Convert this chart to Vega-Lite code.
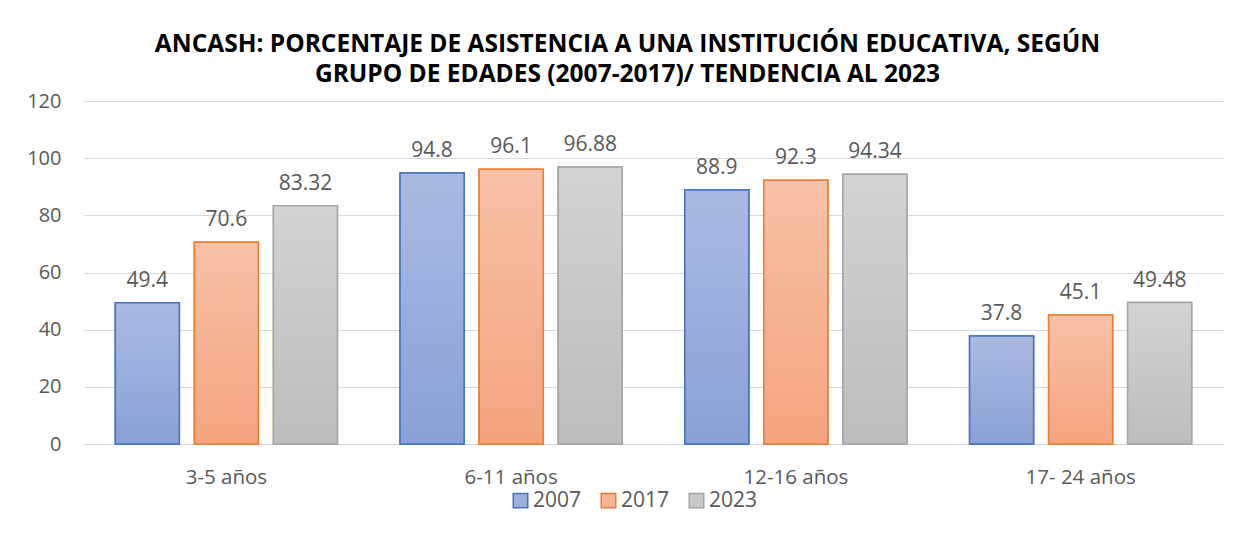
{
  "$schema": "https://vega.github.io/schema/vega-lite/v6.json",
  "width": 1139,
  "height": 343,
  "autosize": {"type": "none"},
  "padding": {"left": 84, "top": 101, "right": 25, "bottom": 90},
  "background": "white",
  "title": {
    "text": ["ANCASH: PORCENTAJE DE ASISTENCIA A UNA INSTITUCIÓN EDUCATIVA, SEGÚN", "GRUPO DE EDADES (2007-2017)/ TENDENCIA AL 2023"],
    "font": "Open Sans",
    "fontSize": 24.5,
    "fontWeight": "bold",
    "color": "#000000",
    "anchor": "middle",
    "frame": "group",
    "dx": -26,
    "offset": 4,
    "lineHeight": 30
  },
  "config": {
    "view": {"stroke": null},
    "axis": {"labelFont": "Open Sans", "labelColor": "#595959", "labelFontSize": 20, "titleFont": "Open Sans"},
    "legend": {"labelFont": "Open Sans", "labelColor": "#595959", "labelFontSize": 21}
  },
  "data": {
    "values": [
      {"group": "3-5 años", "year": "2007", "value": 49.4},
      {"group": "3-5 años", "year": "2017", "value": 70.6},
      {"group": "3-5 años", "year": "2023", "value": 83.32},
      {"group": "6-11 años", "year": "2007", "value": 94.8},
      {"group": "6-11 años", "year": "2017", "value": 96.1},
      {"group": "6-11 años", "year": "2023", "value": 96.88},
      {"group": "12-16 años", "year": "2007", "value": 88.9},
      {"group": "12-16 años", "year": "2017", "value": 92.3},
      {"group": "12-16 años", "year": "2023", "value": 94.34},
      {"group": "17- 24 años", "year": "2007", "value": 37.8},
      {"group": "17- 24 años", "year": "2017", "value": 45.1},
      {"group": "17- 24 años", "year": "2023", "value": 49.48}
    ]
  },
  "encoding": {
    "x": {
      "field": "group", "type": "nominal",
      "sort": ["3-5 años", "6-11 años", "12-16 años", "17- 24 años"],
      "scale": {"paddingInner": 0.22, "paddingOuter": 0.11},
      "axis": {"title": null, "labelAngle": 0, "ticks": false, "domainColor": "#d9d9d9", "domainWidth": 1, "labelPadding": 23, "labelFontSize": 20.5}
    },
    "xOffset": {
      "field": "year", "type": "nominal",
      "scale": {"paddingInner": 0.19, "paddingOuter": 0}
    },
    "y": {
      "field": "value", "type": "quantitative",
      "scale": {"domain": [0, 120], "nice": false},
      "axis": {"title": null, "values": [0, 20, 40, 60, 80, 100, 120], "ticks": false, "domain": false, "gridColor": "#d9d9d9", "gridWidth": 1, "labelPadding": 23}
    }
  },
  "layer": [
    {
      "mark": {"type": "bar", "strokeWidth": 1.5},
      "encoding": {
        "fill": {
          "field": "year", "type": "nominal",
          "scale": {"domain": ["2007", "2017", "2023"], "range": ["#9cb0dd", "#f6b494", "#c9c9c9"]},
          "legend": {"title": null, "orient": "none", "legendX": 426, "legendY": 389, "direction": "horizontal", "symbolType": "square", "symbolSize": 210, "symbolStrokeWidth": 1.5, "columnPadding": 16, "labelOffset": 2}
        },
        "stroke": {
          "field": "year", "type": "nominal",
          "scale": {"domain": ["2007", "2017", "2023"], "range": ["#4472c4", "#ed7d31", "#a5a5a5"]},
          "legend": {"title": null, "orient": "none", "legendX": 426, "legendY": 389, "direction": "horizontal", "symbolType": "square", "symbolSize": 210, "symbolStrokeWidth": 1.5, "columnPadding": 16, "labelOffset": 2}
        }
      }
    },
    {
      "transform": [{"filter": "datum.year === '2007'"}],
      "mark": {"type": "bar", "stroke": "#4472c4", "strokeWidth": 1.5,
        "fill": {"gradient": "linear", "x1": 0, "y1": 0, "x2": 0, "y2": 1, "stops": [{"offset": 0, "color": "#abbae2"}, {"offset": 1, "color": "#8aa1d6"}]}},
      "encoding": {}
    },
    {
      "transform": [{"filter": "datum.year === '2017'"}],
      "mark": {"type": "bar", "stroke": "#ed7d31", "strokeWidth": 1.5,
        "fill": {"gradient": "linear", "x1": 0, "y1": 0, "x2": 0, "y2": 1, "stops": [{"offset": 0, "color": "#f8c1a8"}, {"offset": 1, "color": "#f4a47f"}]}},
      "encoding": {}
    },
    {
      "transform": [{"filter": "datum.year === '2023'"}],
      "mark": {"type": "bar", "stroke": "#a5a5a5", "strokeWidth": 1.5,
        "fill": {"gradient": "linear", "x1": 0, "y1": 0, "x2": 0, "y2": 1, "stops": [{"offset": 0, "color": "#d3d3d3"}, {"offset": 1, "color": "#bdbdbd"}]}},
      "encoding": {}
    },
    {
      "mark": {"type": "text", "font": "Open Sans", "fontSize": 21, "color": "#595959", "baseline": "alphabetic", "dy": -16},
      "encoding": {
        "text": {"field": "value", "type": "quantitative"}
      }
    }
  ]
}
